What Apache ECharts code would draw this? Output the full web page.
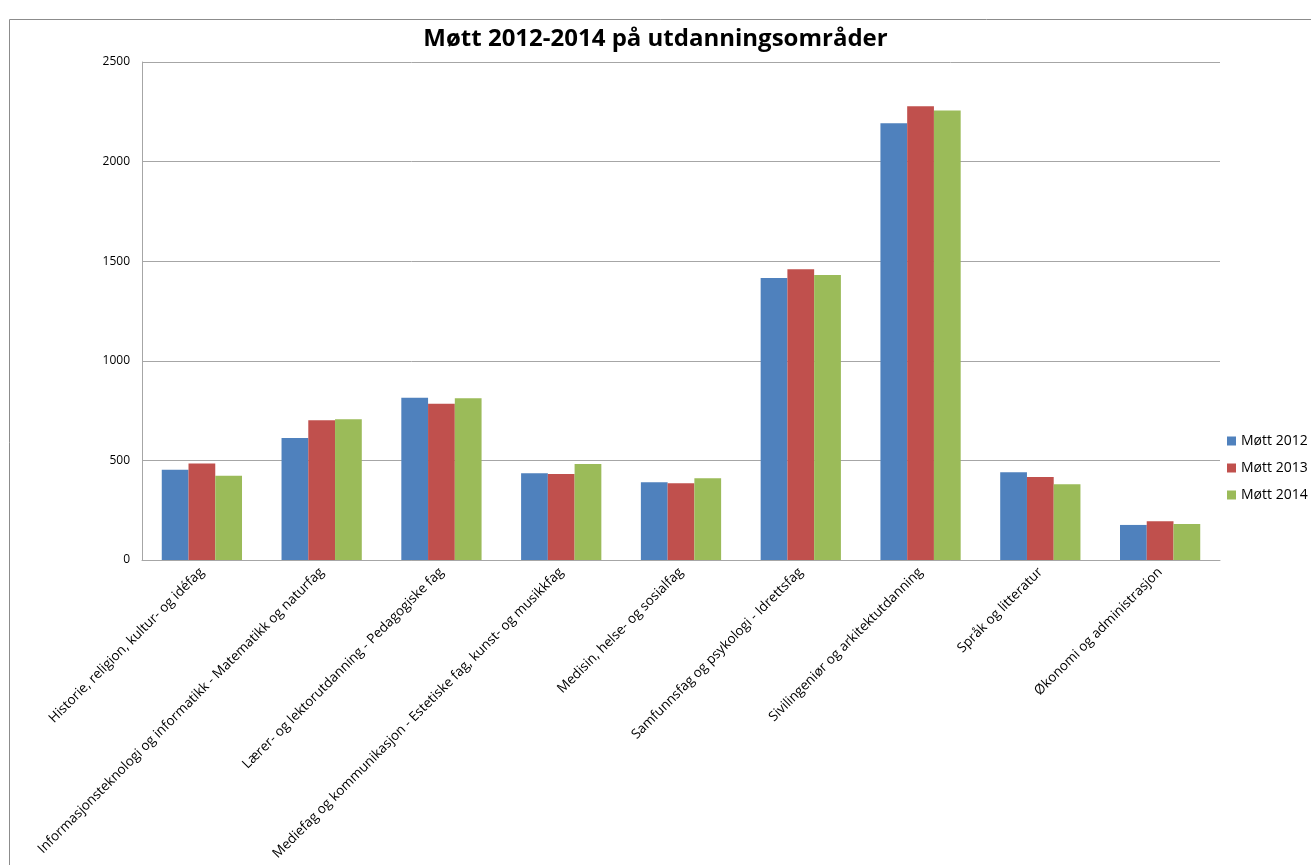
<!DOCTYPE html>
<html><head><meta charset="utf-8">
<script src="https://cdn.jsdelivr.net/npm/echarts@6/dist/echarts.min.js"></script>
<style>html,body{margin:0;padding:0;background:#fff;}#c{width:1311px;height:865px;}</style>
</head><body><div id="c"></div>
<script>
const categories = [
  "Historie, religion, kultur- og idéfag",
  "Informasjonsteknologi og informatikk - Matematikk og naturfag",
  "Lærer- og lektorutdanning - Pedagogiske fag",
  "Mediefag og kommunikasjon - Estetiske fag, kunst- og musikkfag",
  "Medisin, helse- og sosialfag",
  "Samfunnsfag og psykologi - Idrettsfag",
  "Sivilingeniør og arkitektutdanning",
  "Språk og litteratur",
  "Økonomi og administrasjon"
];
const mott2012 = [453, 612, 815, 435, 390, 1416, 2192, 440, 176];
const mott2013 = [484, 701, 785, 432, 385, 1459, 2278, 417, 194];
const mott2014 = [423, 706, 812, 482, 410, 1431, 2256, 380, 181];
const seriesNames = ["Møtt 2012", "Møtt 2013", "Møtt 2014"];
const titleText = "Møtt 2012-2014 på utdanningsområder";

const colors = ["#4F81BD", "#C0504D", "#9BBB59"];
const font = "'Open Sans', 'Liberation Sans', sans-serif";
const chart = echarts.init(document.getElementById('c'), null, {renderer:'canvas'});
const mk = (name, data, i) => ({
  name, type: 'bar', data, barGap: '0%', barCategoryGap: '33%',
  itemStyle: {color: colors[i]}
});
chart.setOption({
  animation: false,
  graphic: [{type:'rect', shape:{x:9.5, y:19.5, width:1400, height:1000}, style:{fill:'none', stroke:'#8c8c8c', lineWidth:1}, silent:true}],
  title: {text: titleText, left: 'center', top: 22,
    textStyle: {fontFamily: font, fontWeight: 'bold', fontSize: 24, color: '#000'}},
  legend: {orient:'vertical', left: 1222, top: 429, itemWidth: 9, itemHeight: 9, itemGap: 13,
    icon: 'rect', textStyle: {fontFamily: font, fontSize: 14, color:'#000'}, data: seriesNames},
  grid: {left: 142, right: 91, top: 62, bottom: 305, containLabel: false},
  xAxis: {type:'category', data: categories,
    axisLine: {lineStyle: {color:'#a6a6a6'}}, axisTick: {show:false},
    axisLabel: {rotate: 45, interval: 0, margin: 10, fontFamily: font, fontSize: 13.5, color:'#000'}},
  yAxis: {type:'value', min: 0, max: 2500, interval: 500,
    axisLine: {show:true, lineStyle: {color:'#a6a6a6'}}, axisTick: {show:false},
    splitLine: {lineStyle: {color:'#a6a6a6'}},
    axisLabel: {margin: 12, fontFamily: font, fontSize: 12, color:'#000', formatter: v => String(v)}},
  series: [mk(seriesNames[0], mott2012, 0), mk(seriesNames[1], mott2013, 1), mk(seriesNames[2], mott2014, 2)]
});
</script></body></html>
